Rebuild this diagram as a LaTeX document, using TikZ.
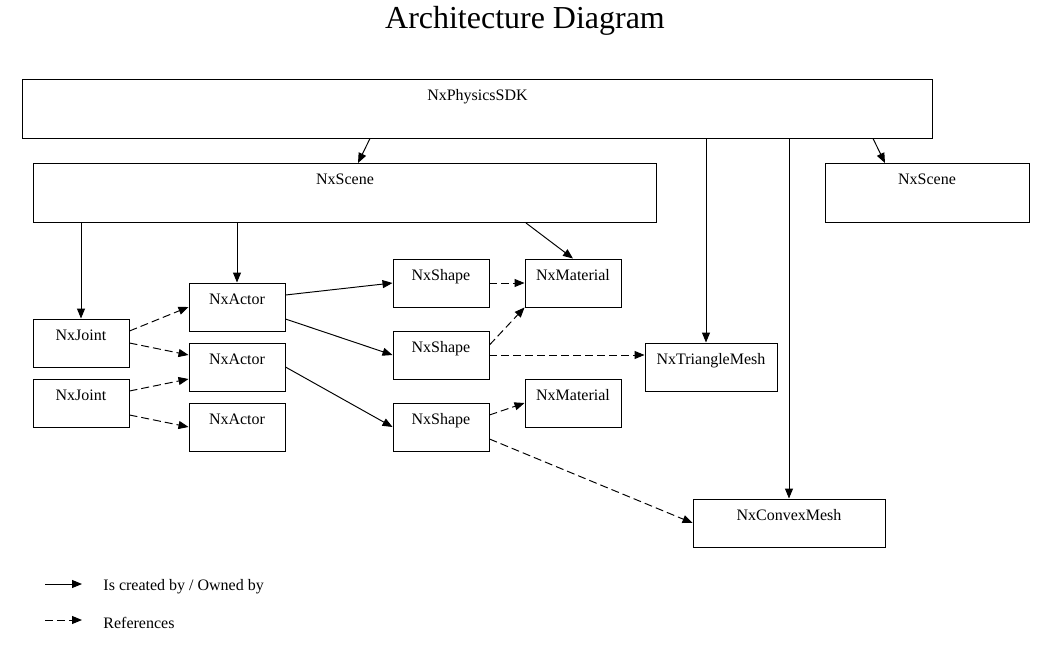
\documentclass[tikz,border=0pt]{standalone}
\usepackage{fontspec}
\setmainfont{Liberation Serif}
\usetikzlibrary{arrows.meta}

\begin{document}
\begin{tikzpicture}[
    x=0.02cm, y=-0.02cm,
    line width=0.55pt,
    box/.style={draw, line width=0.55pt, minimum width=1.92cm, minimum height=0.96cm, inner sep=0pt,
        label={[anchor=north, yshift=-0.1cm, font=\fontsize{9.1}{11}\selectfont]north:#1}},
    owns/.style={-{Triangle[length=0.2cm, width=0.16cm]}},
    refs/.style={owns, dash pattern=on 0.16cm off 0.08cm}
]
\useasboundingbox (0,0) rectangle (1042,659);
\node[font=\fontsize{18.2}{22}\selectfont] (title) at (525,21) {Architecture Diagram};

\node[box=NxPhysicsSDK, minimum width=18.22cm, minimum height=1.18cm] (sdk) at (477.5,108.5) {};
\node[box=NxScene, minimum width=12.48cm, minimum height=1.18cm] (scene) at (345,193) {};
\node[box=NxScene, minimum width=4.08cm, minimum height=1.18cm] (scene2) at (927,193) {};

\node[box=NxJoint] (joint1) at (81,343) {};
\node[box=NxJoint] (joint2) at (81,403) {};
\node[box=NxActor] (actor1) at (237,307) {};
\node[box=NxActor] (actor2) at (237,367) {};
\node[box=NxActor] (actor3) at (237,427) {};
\node[box=NxShape] (shape1) at (441,283) {};
\node[box=NxShape] (shape2) at (441,355) {};
\node[box=NxShape] (shape3) at (441,427) {};
\node[box=NxMaterial] (mat1) at (573,283) {};
\node[box=NxMaterial] (mat2) at (573,403) {};
\node[box=NxTriangleMesh, minimum width=2.64cm] (trimesh) at (711,367) {};
\node[box=NxConvexMesh, minimum width=3.84cm] (convex) at (789,523) {};

% created by / owned by
\draw[owns] (sdk.south -| 370,0) -- (scene.north -| 358,0);
\draw[owns] (sdk.south -| 873,0) -- (scene2.north -| 885,0);
\draw[owns] (sdk.south -| 706,0) -- (trimesh.north -| 706,0);
\draw[owns] (sdk.south -| 789,0) -- (convex.north -| 789,0);
\draw[owns] (scene.south -| joint1) -- (joint1.north);
\draw[owns] (scene.south -| actor1) -- (actor1.north);
\draw[owns] (scene.south -| 526,0) -- (mat1.north);
\draw[owns] (actor1.east |- 0,295) -- (shape1.west);
\draw[owns] (actor1.east |- 0,319) -- (shape2.west);
\draw[owns] (actor2.east) -- (shape3.west);

% references
\draw[refs] (joint1.east |- 0,331) -- (actor1.west);
\draw[refs] (joint1.east |- 0,343) -- (actor2.west |- 0,355);
\draw[refs] (joint2.east |- 0,391) -- (actor2.west |- 0,379);
\draw[refs] (joint2.east |- 0,415) -- (actor3.west);
\draw[refs] (shape1.east) -- (mat1.west);
\draw[refs] (shape2.east |- 0,345) -- (mat1.south west);
\draw[refs] (shape2.east) -- (trimesh.west |- shape2);
\draw[refs] (shape3.east |- 0,415) -- (mat2.west);
\draw[refs] (shape3.east |- 0,439) -- (convex.west);

% legend
\coordinate (own1) at (45,584);
\coordinate (own2) at (82,584);
\coordinate (ref1) at (45,620);
\coordinate (ref2) at (82,620);
\draw[owns] (own1) -- (own2);
\draw[refs] (ref1) -- (ref2);
\node[anchor=west, font=\fontsize{9.1}{11}\selectfont, inner sep=0pt] (ownlbl) at (103,587) {Is created by / Owned by};
\node[anchor=west, font=\fontsize{9.1}{11}\selectfont, inner sep=0pt] (reflbl) at (103,623) {References};
\end{tikzpicture}
\end{document}
